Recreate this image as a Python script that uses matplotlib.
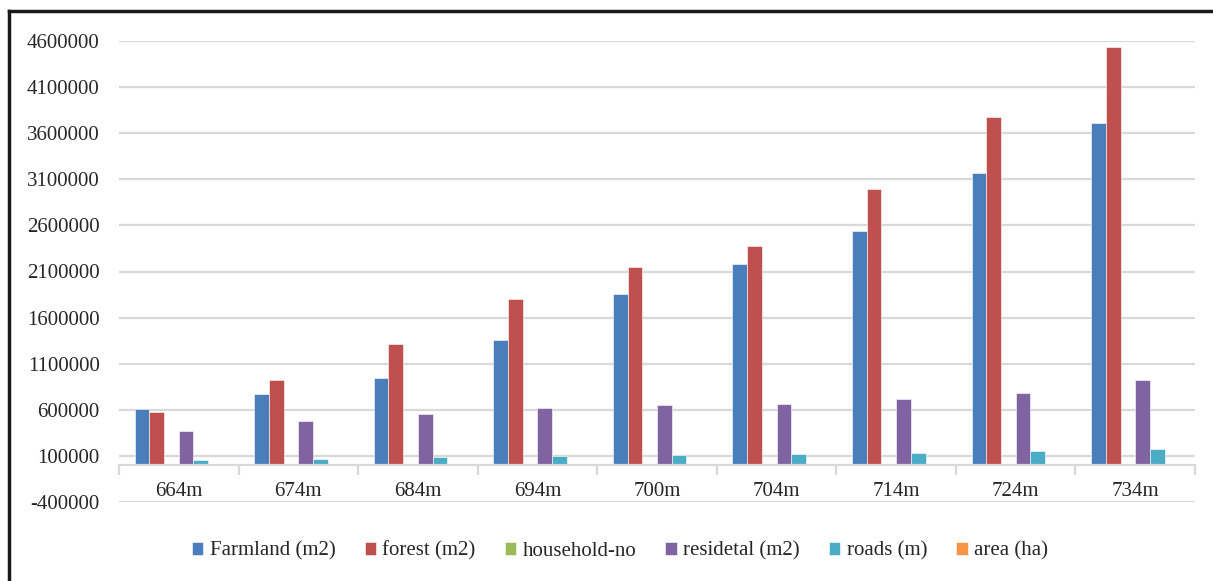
import matplotlib.pyplot as plt
import numpy as np
from matplotlib.lines import Line2D
from matplotlib.ticker import FuncFormatter

plt.rcParams['font.family'] = ['Liberation Serif', 'DejaVu Serif']

altitudes = ["664m", "674m", "684m", "694m", "700m", "704m", "714m", "724m", "734m"]
farmland = [608000, 775000, 949000, 1357000, 1860000, 2184000, 2543000, 3172000, 3707000]
forest = [577000, 924000, 1315000, 1806000, 2154000, 2376000, 2991000, 3772000, 4531000]
households = [85, 110, 130, 150, 165, 180, 200, 220, 245]
residential = [374000, 476000, 559000, 622000, 648000, 665000, 715000, 780000, 924000]
roads = [60000, 70000, 86000, 97000, 108000, 118000, 129000, 154000, 172000]
area_ha = [160, 218, 282, 378, 466, 523, 625, 772, 916]

series = [
    ("Farmland (m2)", farmland, "#4a7ebb"),
    ("forest (m2)", forest, "#c0504d"),
    ("household-no", households, "#9bbb59"),
    ("residetal (m2)", residential, "#8064a2"),
    ("roads (m)", roads, "#4bacc6"),
    ("area (ha)", area_ha, "#f79646"),
]

W, H = 1213, 581
fig = plt.figure(figsize=(W / 100, H / 100), dpi=100)
ax = fig.add_axes([119 / W, 1 - 502 / H, (1195 - 119) / W, (502 - 41) / H])

x = np.arange(len(altitudes))
w = 0.123
for j, (name, vals, col) in enumerate(series):
    ax.bar(x + (j - 2.5) * w, vals, w, color=col, label=name,
           edgecolor="white", linewidth=0.4, zorder=3)

ax.set_ylim(-400000, 4600000)
ax.set_yticks(np.arange(-400000, 4600001, 500000))
ax.yaxis.set_major_formatter(FuncFormatter(lambda v, pos: "%d" % v))
ax.set_xlim(-0.5, len(altitudes) - 0.5)
ax.set_xticks(x)
ax.set_xticklabels(altitudes)
ax.set_xticks(np.arange(-0.5, len(altitudes), 1), minor=True)

ax.yaxis.grid(True, color="#d9d9d9", lw=1.6)
ax.set_axisbelow(True)
for s in ("left", "right", "top"):
    ax.spines[s].set_visible(False)
ax.spines["bottom"].set_position(("data", 0))
ax.spines["bottom"].set_color("#d9d9d9")
ax.spines["bottom"].set_linewidth(1.6)
ax.spines["bottom"].set_zorder(4)

ax.tick_params(axis="y", length=0, pad=14, labelsize=15, labelcolor="#262626")
ax.tick_params(axis="x", which="major", length=0, pad=12, labelsize=15, labelcolor="#262626")
ax.tick_params(axis="x", which="minor", length=7, width=1.6, color="#d9d9d9")

fig.legend(loc="center", bbox_to_anchor=(620 / W, 1 - 551 / H), ncol=6,
           frameon=False, fontsize=15, handlelength=0.55, handleheight=0.55,
           handletextpad=0.3, columnspacing=1.4, labelcolor="#262626")

# frame around the chart
fig.add_artist(Line2D([9 / W, 1], [1 - 11 / H] * 2, transform=fig.transFigure,
                      color="#1a1a1a", lw=2.5))
fig.add_artist(Line2D([9 / W] * 2, [0, 1 - 11 / H], transform=fig.transFigure,
                      color="#1a1a1a", lw=2.5))

fig.savefig("out.png", dpi=100)
